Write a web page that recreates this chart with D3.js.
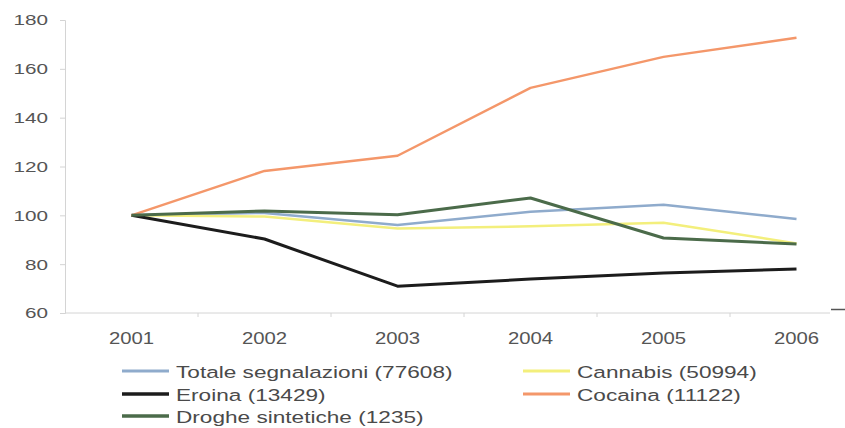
<!DOCTYPE html>
<html><head><meta charset="utf-8">
<script src="https://cdn.jsdelivr.net/npm/d3@7"></script>
<style>body{margin:0;background:#fff}svg{display:block}</style>
</head><body>
<script>
const years = ["2001","2002","2003","2004","2005","2006"];
const seriesNames = ["Totale segnalazioni (77608)","Cannabis (50994)","Eroina (13429)","Cocaina (11122)","Droghe sintetiche (1235)"];
const totale = [100,101,96,101.5,104.3,98.5];
const cannabis = [100,99.5,94.6,95.5,97,88.5];
const eroina = [100,90.3,71,73.9,76.4,78];
const cocaina = [100,118.2,124.4,152.2,164.9,172.7];
const sintetiche = [100,101.8,100.2,107.1,90.7,88.3];
const yTicks = [60,80,100,120,140,160,180];

const colors = ["#8fabcc","#f3ef7c","#1c1c1c","#f4976a","#4b6b4a"];
const widths = [2.5,2.5,3,2.5,3];
const data = [totale,cannabis,eroina,cocaina,sintetiche];
const FONT = "Liberation Sans, Arial, sans-serif";

const W=845,H=428;
const svg=d3.select("body").append("svg").attr("width",W).attr("height",H);
const x=d3.scaleBand().domain(years).range([65,863]);
const y=d3.scaleLinear().domain([60,180]).range([313,20]);

// y axis
const gy=svg.append("g").attr("transform","translate(65,0)")
  .call(d3.axisLeft(y).tickValues(yTicks).tickSize(5).tickFormat(""));
gy.select(".domain").attr("stroke","#d4d4d4");
gy.selectAll(".tick line").attr("stroke","#d4d4d4");
svg.selectAll(".ylab").data(yTicks).join("text")
  .attr("transform",d=>`translate(48,${y(d)}) scale(1.38,1)`)
  .attr("text-anchor","end").attr("dy","0.36em")
  .attr("font-family",FONT).attr("font-size",15).attr("fill","#555").text(d=>d);

// x axis
svg.append("line").attr("x1",65).attr("x2",830).attr("y1",313).attr("y2",313).attr("stroke","#d4d4d4");
svg.append("line").attr("x1",831).attr("x2",845).attr("y1",309.5).attr("y2",309.5).attr("stroke","#555").attr("stroke-width",1.5);
const bounds=years.slice(1).map(d=>x(d));
svg.selectAll(".xt").data(bounds).join("line")
  .attr("x1",d=>d).attr("x2",d=>d).attr("y1",313).attr("y2",317).attr("stroke","#d4d4d4");
svg.selectAll(".xlab").data(years).join("text")
  .attr("transform",d=>`translate(${x(d)+x.bandwidth()/2},344) scale(1.27,1)`)
  .attr("text-anchor","middle")
  .attr("font-family",FONT).attr("font-size",16).attr("fill","#555").text(d=>d);

const line=d3.line().x((d,i)=>x(years[i])+x.bandwidth()/2).y(d=>y(d));
data.forEach((s,k)=>{
  svg.append("path").datum(s).attr("d",line).attr("fill","none")
    .attr("stroke",colors[k]).attr("stroke-width",widths[k]).attr("stroke-linejoin","round");
});

// legend
const legPos=[[122,371],[523,371],[122,394],[523,394],[122,416]];
seriesNames.forEach((n,k)=>{
  const [lx,ly]=legPos[k];
  svg.append("line").attr("x1",lx).attr("x2",lx+47).attr("y1",ly).attr("y2",ly)
    .attr("stroke",colors[k]).attr("stroke-width",widths[k]+0.5);
  svg.append("text").attr("transform",`translate(${lx+54},${ly+7}) scale(1.33,1)`).text(n)
    .attr("font-family",FONT).attr("font-size",17).attr("fill","#4a4a4a");
});
</script>
</body></html>
